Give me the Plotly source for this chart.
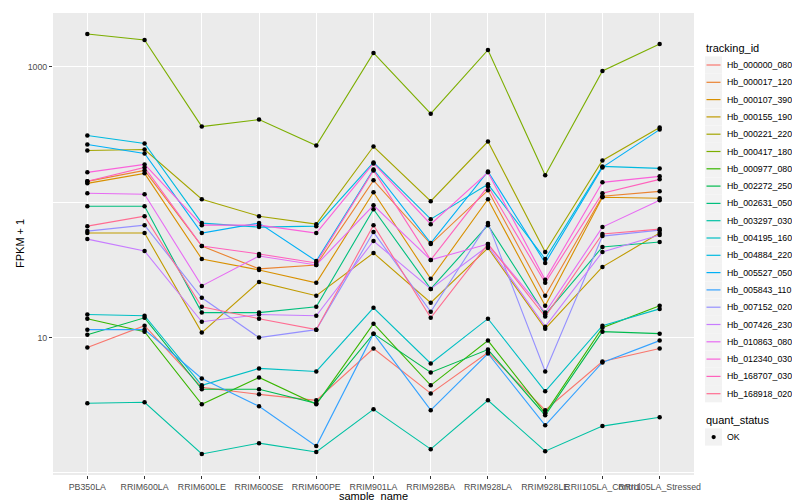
import plotly.graph_objects as go

samples = ["PB350LA", "RRIM600LA", "RRIM600LE", "RRIM600SE", "RRIM600PE", "RRIM901LA",
           "RRIM928BA", "RRIM928LA", "RRIM928LE", "RRII105LA_Control", "RRII105LA_Stressed"]

# FPKM + 1 values, one list per tracking_id, in sample order
hb_000000_080 = [8.44, 12.25, 4.29, 3.81, 3.44, 8.30, 3.87, 7.76, 2.91, 6.66, 8.30]
hb_000017_120 = [142.7, 171.9, 47.5, 32.2, 34.4, 145.1, 49.1, 122.5, 20.4, 110.7, 120.4]
hb_000107_390 = [137.9, 163.4, 38.1, 31.6, 25.4, 118.4, 27.2, 105.2, 17.2, 108.8, 107.0]
hb_000155_190 = [59.2, 59.2, 10.9, 25.8, 20.4, 42.2, 18.1, 45.9, 11.65, 33.3, 59.2]
hb_000221_220 = [241, 245, 105.2, 78.9, 68.9, 258, 101.7, 281, 42.9, 203.6, 356]
hb_000417_180 = [1748, 1580, 362, 408, 262, 1268, 451, 1334, 158, 934, 1476]
hb_000977_080 = [13.8, 11.07, 3.22, 5.08, 3.22, 12.67, 4.44, 9.50, 2.76, 11.84, 17.2]
hb_002272_250 = [10.5, 14.0, 4.15, 4.15, 3.27, 10.7, 5.53, 8.16, 2.67, 11.07, 10.7]
hb_002631_050 = [93.5, 93.5, 15.3, 15.3, 16.9, 88.8, 22.9, 67.7, 14.8, 46.7, 50.8]
hb_003297_030 = [3.27, 3.33, 1.38, 1.66, 1.43, 2.95, 1.50, 3.44, 1.45, 2.22, 2.58]
hb_004195_160 = [14.8, 14.5, 4.44, 5.92, 5.62, 16.6, 6.44, 13.8, 4.01, 12.25, 16.3]
hb_004884_220 = [311, 271.6, 70.1, 65.5, 66.6, 197, 75.0, 135.6, 38.1, 184, 177.8]
hb_005527_050 = [267, 229, 59.2, 70.1, 36.8, 174.8, 49.9, 169, 35.6, 180.9, 344]
hb_005843_110 = [11.45, 11.45, 4.99, 3.11, 1.58, 10.7, 2.91, 7.63, 2.25, 6.55, 9.50]
hb_007152_020 = [61.2, 67.7, 19.7, 10.0, 11.45, 60.2, 15.5, 70.1, 5.62, 56.2, 62.2]
hb_007426_230 = [53.4, 43.6, 13.1, 14.8, 14.5, 51.7, 22.9, 47.5, 12.05, 42.9, 57.2]
hb_010863_080 = [116.5, 114.5, 24.1, 40.1, 34.4, 95.0, 37.5, 49.1, 15.3, 65.5, 103.4]
hb_012340_030 = [166.2, 190.3, 67.7, 67.7, 59.2, 193.6, 68.9, 166.2, 26.7, 140.3, 155.3]
hb_168707_030 = [142.7, 180.9, 47.5, 41.5, 35.6, 171.9, 37.5, 131.1, 25.4, 116.5, 147.6]
hb_168918_020 = [66.6, 78.9, 16.9, 13.8, 11.45, 67.7, 14.0, 49.1, 14.3, 58.2, 63.3]

tracking_ids = ["Hb_000000_080", "Hb_000017_120", "Hb_000107_390", "Hb_000155_190",
                "Hb_000221_220", "Hb_000417_180", "Hb_000977_080", "Hb_002272_250",
                "Hb_002631_050", "Hb_003297_030", "Hb_004195_160", "Hb_004884_220",
                "Hb_005527_050", "Hb_005843_110", "Hb_007152_020", "Hb_007426_230",
                "Hb_010863_080", "Hb_012340_030", "Hb_168707_030", "Hb_168918_020"]
series = [hb_000000_080, hb_000017_120, hb_000107_390, hb_000155_190, hb_000221_220,
          hb_000417_180, hb_000977_080, hb_002272_250, hb_002631_050, hb_003297_030,
          hb_004195_160, hb_004884_220, hb_005527_050, hb_005843_110, hb_007152_020,
          hb_007426_230, hb_010863_080, hb_012340_030, hb_168707_030, hb_168918_020]
colors = ["#F8766D", "#EA8331", "#D89000", "#C09B00", "#A3A500", "#7CAE00", "#39B600",
          "#00BB4E", "#00BF7D", "#00C1A3", "#00BFC4", "#00BAE0", "#00B0F6", "#35A2FF",
          "#9590FF", "#C77CFF", "#E76BF3", "#FA62DB", "#FF62BC", "#FF6C91"]

FONT = "Liberation Sans, Arial, sans-serif"
W, H = 800, 500
PL, PR, PT, PB = 45, 686, 5, 467


def px(x):
    return (x - PL) / (PR - PL)


def py(y):
    return (PB - y) / (PB - PT)


fig = go.Figure()
for name, vals, col in zip(tracking_ids, series, colors):
    fig.add_trace(go.Scatter(x=samples, y=vals, mode="lines", name=name,
                             line=dict(color=col, width=1.1), showlegend=False,
                             hoverinfo="skip"))
for name, vals in zip(tracking_ids, series):
    fig.add_trace(go.Scatter(x=samples, y=vals, mode="markers", name=name,
                             marker=dict(color="black", size=4.5, symbol="circle"),
                             showlegend=False))

shapes = []
annotations = []

# legend: tracking_id
annotations.append(dict(text="tracking_id", x=px(696), y=py(40), xref="paper", yref="paper",
                        xanchor="left", yanchor="middle", showarrow=False,
                        font=dict(family=FONT, size=11, color="black")))
step = 17.3
for i, (name, col) in enumerate(zip(tracking_ids, colors)):
    cy = 57 + i * step
    shapes.append(dict(type="rect", xref="paper", yref="paper",
                       x0=px(697), x1=px(714), y0=py(cy - 8.6), y1=py(cy + 8.6),
                       fillcolor="#F2F2F2", line=dict(width=0), layer="below"))
    shapes.append(dict(type="line", xref="paper", yref="paper",
                       x0=px(698.5), x1=px(712.5), y0=py(cy), y1=py(cy),
                       line=dict(color=col, width=1.2)))
    annotations.append(dict(text=name, x=px(717), y=py(cy), xref="paper", yref="paper",
                            xanchor="left", yanchor="middle", showarrow=False,
                            font=dict(family=FONT, size=8.8, color="black")))

# legend: quant_status
annotations.append(dict(text="quant_status", x=px(696), y=py(412), xref="paper", yref="paper",
                        xanchor="left", yanchor="middle", showarrow=False,
                        font=dict(family=FONT, size=11, color="black")))
shapes.append(dict(type="rect", xref="paper", yref="paper",
                   x0=px(697), x1=px(714), y0=py(429 - 8.6), y1=py(429 + 8.6),
                   fillcolor="#F2F2F2", line=dict(width=0), layer="below"))
shapes.append(dict(type="circle", xref="paper", yref="paper",
                   x0=px(703.5), x1=px(707.8), y0=py(431.2), y1=py(426.9),
                   fillcolor="black", line=dict(width=0)))
annotations.append(dict(text="OK", x=px(717), y=py(429), xref="paper", yref="paper",
                        xanchor="left", yanchor="middle", showarrow=False,
                        font=dict(family=FONT, size=8.8, color="black")))

# axis titles
annotations.append(dict(text="sample_name", x=px((PL + PR) / 2), y=py(487.5), xref="paper",
                        yref="paper", xanchor="center", yanchor="middle", showarrow=False,
                        font=dict(family=FONT, size=11, color="black")))
annotations.append(dict(text="FPKM + 1", x=px(12), y=py((PT + PB) / 2), xref="paper",
                        yref="paper", xanchor="center", yanchor="middle", showarrow=False,
                        textangle=-90, font=dict(family=FONT, size=11, color="black")))

fig.update_layout(
    width=W, height=H,
    margin=dict(l=PL, r=W - PR, t=PT, b=H - PB, pad=0),
    paper_bgcolor="white", plot_bgcolor="#EBEBEB",
    showlegend=False,
    font=dict(family=FONT, size=8.8, color="#4D4D4D"),
    shapes=shapes, annotations=annotations,
    xaxis=dict(type="category", categoryorder="array", categoryarray=samples,
               range=[-0.6, len(samples) - 0.4], showgrid=True, gridcolor="white",
               gridwidth=1.1, zeroline=False, showline=False, ticks="outside", ticklen=3,
               tickwidth=1, tickcolor="#333333", tickangle=0,
               tickfont=dict(family=FONT, size=8.8, color="#4D4D4D")),
    yaxis=dict(type="log", range=[-0.015, 3.398], tickmode="array", tickvals=[10, 1000],
               ticktext=["10", "1000"], showgrid=True, gridcolor="white", gridwidth=1.1,
               zeroline=False, showline=False, ticks="outside", ticklen=3, tickwidth=1,
               tickcolor="#333333", tickfont=dict(family=FONT, size=8.8, color="#4D4D4D"),
               minor=dict(tickmode="array", tickvals=[1, 100], showgrid=True,
                          gridcolor="white", gridwidth=0.55, ticks="")),
)

fig.write_html("out.html")
